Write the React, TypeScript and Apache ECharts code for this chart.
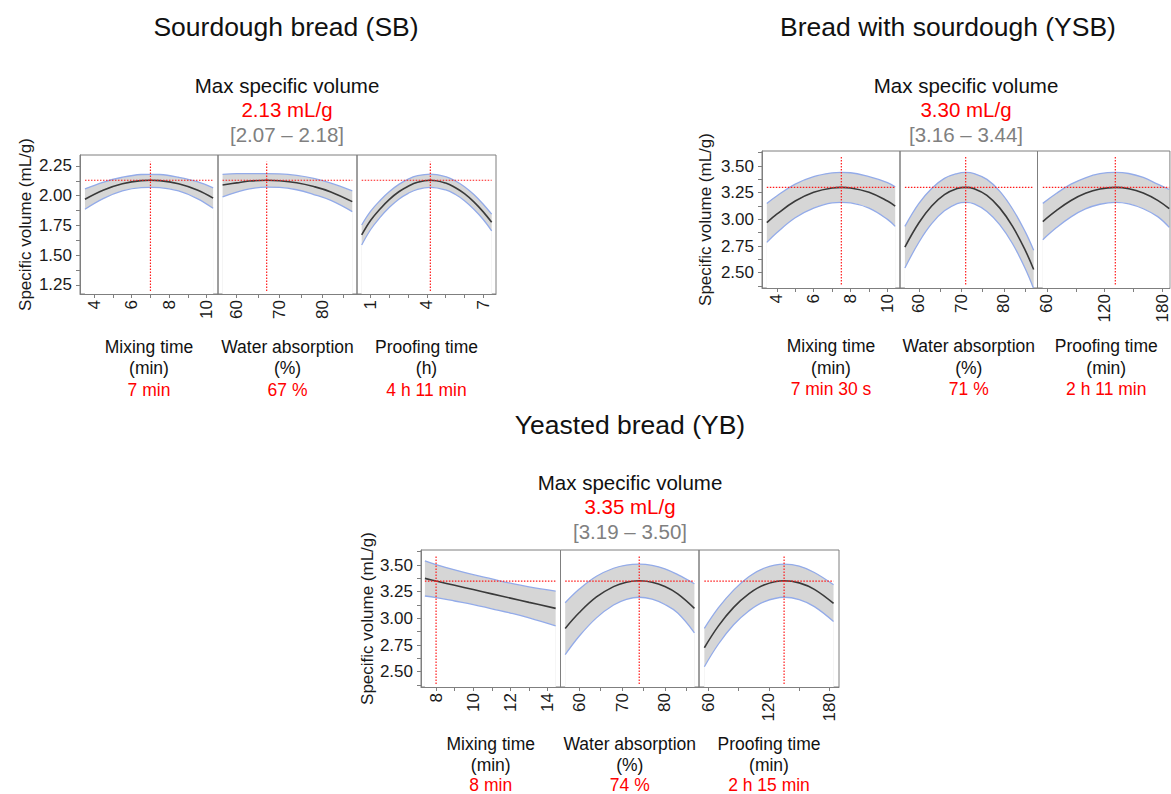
import React, { useEffect, useRef } from "react";
import * as echarts from "echarts";

const FONT = '"Liberation Sans", Arial, Helvetica, sans-serif';
const FRAME = "#7f7f7f";
const BLUE = "#93abe9";
const BAND = "#d6d6d6";
const MEAN = "#3a3a3a";
const RED = "#ff1a1a";
const TEXT_RED = "#ff0000";
const CI_GRAY = "#808080";

// ---------------- Sourdough bread (SB) ----------------
const sbMixX = [3.5, 4.5, 5.5, 6.5, 7.0, 7.5, 8.5, 9.5, 10.35];
const sbMixMean = [1.97, 2.048, 2.1, 2.127, 2.13, 2.127, 2.1, 2.048, 1.98];
const sbMixUpper = [2.057, 2.115, 2.155, 2.178, 2.18, 2.178, 2.155, 2.118, 2.066];
const sbMixLower = [1.886, 1.977, 2.04, 2.068, 2.07, 2.068, 2.04, 1.976, 1.894];

const sbWaterX = [56.7, 60, 63, 67, 70, 74, 78, 82, 87];
const sbWaterMean = [2.09, 2.108, 2.123, 2.13, 2.126, 2.109, 2.077, 2.032, 1.95];
const sbWaterUpper = [2.18, 2.185, 2.185, 2.185, 2.183, 2.17, 2.145, 2.105, 2.04];
const sbWaterLower = [1.99, 2.03, 2.058, 2.072, 2.07, 2.05, 2.01, 1.96, 1.866];

const sbProofX = [0.52, 1, 1.5, 2, 2.5, 3, 3.5, 4.18, 5, 5.5, 6, 6.5, 7, 7.45];
const sbProofMean = [1.67, 1.793, 1.889, 1.969, 2.033, 2.08, 2.113, 2.13, 2.106, 2.069, 2.017, 1.948, 1.864, 1.776];
const sbProofUpper = [1.754, 1.87, 1.96, 2.035, 2.095, 2.14, 2.168, 2.182, 2.16, 2.126, 2.076, 2.01, 1.928, 1.845];
const sbProofLower = [1.586, 1.716, 1.818, 1.903, 1.971, 2.02, 2.054, 2.07, 2.048, 2.012, 1.958, 1.886, 1.8, 1.705];

// ---------------- Bread with sourdough (YSB) ----------------
const ysbMixX = [3.46, 4, 5, 6, 7, 7.5, 8, 9, 10, 10.42];
const ysbMixMean = [2.97, 3.049, 3.172, 3.254, 3.295, 3.3, 3.295, 3.254, 3.172, 3.125];
const ysbMixUpper = [3.15, 3.22, 3.33, 3.4, 3.435, 3.44, 3.437, 3.4, 3.345, 3.305];
const ysbMixLower = [2.785, 2.875, 3.015, 3.105, 3.155, 3.16, 3.155, 3.105, 3.0, 2.935];

const ysbWaterX = [56.7, 60, 63, 66, 69, 71, 73, 76, 79, 82, 85, 87];
const ysbWaterMean = [2.74, 2.968, 3.125, 3.232, 3.289, 3.3, 3.288, 3.225, 3.108, 2.937, 2.712, 2.53];
const ysbWaterUpper = [2.935, 3.15, 3.29, 3.385, 3.43, 3.44, 3.43, 3.375, 3.265, 3.1, 2.885, 2.71];
const ysbWaterLower = [2.545, 2.786, 2.96, 3.08, 3.148, 3.16, 3.146, 3.075, 2.951, 2.774, 2.54, 2.35];

const ysbProofX = [55.7, 70, 85, 100, 115, 131, 145, 160, 175, 187];
const ysbProofMean = [2.98, 3.084, 3.177, 3.244, 3.285, 3.3, 3.288, 3.247, 3.178, 3.1];
const ysbProofUpper = [3.15, 3.245, 3.33, 3.39, 3.428, 3.44, 3.43, 3.393, 3.33, 3.28];
const ysbProofLower = [2.81, 2.923, 3.024, 3.098, 3.142, 3.16, 3.146, 3.1, 3.026, 2.925];

// ---------------- Yeasted bread (YB) ----------------
const ybMixX = [7.4, 8, 9, 10, 11, 12, 13, 14.43];
const ybMixMean = [3.375, 3.35, 3.31, 3.27, 3.23, 3.19, 3.15, 3.094];
const ybMixUpper = [3.54, 3.505, 3.455, 3.41, 3.37, 3.33, 3.295, 3.256];
const ybMixLower = [3.21, 3.195, 3.163, 3.13, 3.09, 3.05, 3.005, 2.93];

const ybWaterX = [56.7, 60, 64, 68, 71, 74, 77, 80, 83, 86.9];
const ybWaterMean = [2.906, 3.055, 3.201, 3.298, 3.339, 3.353, 3.339, 3.298, 3.23, 3.094];
const ybWaterUpper = [3.147, 3.275, 3.395, 3.47, 3.5, 3.508, 3.497, 3.465, 3.41, 3.325];
const ybWaterLower = [2.66, 2.835, 3.005, 3.125, 3.178, 3.198, 3.18, 3.13, 3.05, 2.865];

const ybProofX = [56, 70, 85, 100, 115, 135, 150, 165, 184];
const ybProofMean = [2.725, 2.93, 3.103, 3.23, 3.313, 3.353, 3.333, 3.272, 3.14];
const ybProofUpper = [2.906, 3.1, 3.265, 3.39, 3.47, 3.508, 3.49, 3.43, 3.315];
const ybProofLower = [2.547, 2.76, 2.94, 3.07, 3.155, 3.198, 3.175, 3.11, 2.97];

// ---------------- Optima ----------------
const sbOptX = [7, 67, 4.18];
const sbOptY = 2.13;
const ysbOptX = [7.5, 71, 131];
const ysbOptY = 3.3;
const ybOptX = [8, 74, 135];
const ybOptY = 3.35;
// vertical extent of the optimum reference lines [low, high]
const sbVSpan = [1.2, 2.285];
const ysbVSpan = [2.39, 3.595];
const ybVSpan = [2.385, 3.595];

// ---------------- Tick values ----------------
const sbYLabels = [1.25, 1.5, 1.75, 2.0, 2.25];
const sbYTicks = [1.25, 1.375, 1.5, 1.625, 1.75, 1.875, 2.0, 2.125, 2.25];
const yYLabels = [2.5, 2.75, 3.0, 3.25, 3.5];
const yYTicks = [2.375, 2.5, 2.625, 2.75, 2.875, 3.0, 3.125, 3.25, 3.375, 3.5, 3.625];

const mixLabels = [4, 6, 8, 10];
const mixTicks = [4, 5, 6, 7, 8, 9, 10];
const waterLabels = [60, 70, 80];
const waterTicks = [60, 65, 70, 75, 80, 85];
const hourLabels = [1, 4, 7];
const hourTicks = [1, 2, 3, 4, 5, 6, 7];
const minLabels = [60, 120, 180];
const minTicks = [60, 90, 120, 150, 180];
const ybMixLabels = [8, 10, 12, 14];
const ybMixTicks = [8, 9, 10, 11, 12, 13, 14];

// ---------------- Texts ----------------
const groupTitles = ["Sourdough bread (SB)", "Bread with sourdough (YSB)", "Yeasted bread (YB)"];
const maxValues = ["2.13 mL/g", "3.30 mL/g", "3.35 mL/g"];
const maxIntervals = ["[2.07 \u2013 2.18]", "[3.16 \u2013 3.44]", "[3.19 \u2013 3.50]"];
const factorNames = ["Mixing time", "Water absorption", "Proofing time"];
const sbUnits = ["(min)", "(%)", "(h)"];
const yUnits = ["(min)", "(%)", "(min)"];
const sbOptText = ["7 min", "67 %", "4 h 11 min"];
const ysbOptText = ["7 min 30 s", "71 %", "2 h 11 min"];
const ybOptText = ["8 min", "74 %", "2 h 15 min"];

const zip = (xs: number[], ys: number[]) => xs.map((x, k) => [x, ys[k]]);

type Panel = {
  left: number; top: number; width: number; height: number;
  xMin: number; xMax: number; yMin: number; yMax: number;
  xLabels: number[]; xTicks: number[];
  x: number[]; mean: number[]; upper: number[]; lower: number[];
  optX: number; optY: number; vSpan: number[];
  showY: boolean; yLabels: number[]; yTicks: number[]; nameGap: number;
};

function makeGroup(
  top: number, height: number, lefts: number[], widths: number[],
  xr: number[][], yr: number[], xl: number[][], xt: number[][],
  curves: number[][][], optX: number[], optY: number, vSpan: number[],
  yLabels: number[], yTicks: number[], nameGap: number
): Panel[] {
  return [0, 1, 2].map((k) => ({
    left: lefts[k], top, width: widths[k], height,
    xMin: xr[k][0], xMax: xr[k][1], yMin: yr[0], yMax: yr[1],
    xLabels: xl[k], xTicks: xt[k],
    x: curves[k][0], mean: curves[k][1], upper: curves[k][2], lower: curves[k][3],
    optX: optX[k], optY, vSpan,
    showY: k === 0, yLabels, yTicks, nameGap,
  }));
}

const panels: Panel[] = [
  ...makeGroup(155, 139, [80, 218, 357], [138, 139, 139],
    [[3.235, 10.61], [55.63, 88.1], [0.27, 7.68]], [1.174, 2.342],
    [mixLabels, waterLabels, hourLabels], [mixTicks, waterTicks, hourTicks],
    [[sbMixX, sbMixMean, sbMixUpper, sbMixLower], [sbWaterX, sbWaterMean, sbWaterUpper, sbWaterLower], [sbProofX, sbProofMean, sbProofUpper, sbProofLower]],
    sbOptX, sbOptY, sbVSpan, sbYLabels, sbYTicks, 46),
  ...makeGroup(151, 137, [762, 900, 1037.5], [138, 137.5, 137.5],
    [[3.2, 10.68], [55.55, 87.9], [50.2, 187.7]], [2.357, 3.641],
    [mixLabels, waterLabels, minLabels], [mixTicks, waterTicks, minTicks],
    [[ysbMixX, ysbMixMean, ysbMixUpper, ysbMixLower], [ysbWaterX, ysbWaterMean, ysbWaterUpper, ysbWaterLower], [ysbProofX, ysbProofMean, ysbProofUpper, ysbProofLower]],
    ysbOptX, ysbOptY, ysbVSpan, yYLabels, yYTicks, 48),
  ...makeGroup(550, 137, [421, 560.5, 699], [139.5, 138.5, 140],
    [[7.19, 14.69], [55.6, 87.97], [50.7, 189.4]], [2.357, 3.641],
    [ybMixLabels, waterLabels, minLabels], [ybMixTicks, waterTicks, minTicks],
    [[ybMixX, ybMixMean, ybMixUpper, ybMixLower], [ybWaterX, ybWaterMean, ybWaterUpper, ybWaterLower], [ybProofX, ybProofMean, ybProofUpper, ybProofLower]],
    ybOptX, ybOptY, ybVSpan, yYLabels, yYTicks, 44),
];

function txt(text: string, x: number, y: number, size: number, fill: string) {
  return {
    type: "text", x, y, silent: true,
    style: { text, fontSize: size, fontFamily: FONT, fill, align: "center", verticalAlign: "middle" },
  };
}

const redLine = { color: RED, type: [1.5, 1.5], width: 1.2 };

function buildOption() {
  const grid: any[] = [];
  const xAxis: any[] = [];
  const yAxis: any[] = [];
  const series: any[] = [];
  panels.forEach((p, i) => {
    grid.push({ left: p.left, top: p.top, width: p.width, height: p.height, show: true, borderColor: FRAME, borderWidth: 1, backgroundColor: "transparent" });
    xAxis.push({
      gridIndex: i, type: "value", min: p.xMin, max: p.xMax, z: 10,
      axisLine: { show: true, onZero: false, lineStyle: { color: FRAME, width: 1 } },
      axisTick: { show: true, inside: false, length: 4, customValues: p.xTicks, lineStyle: { color: FRAME } },
      axisLabel: { show: true, customValues: p.xLabels, rotate: 90, margin: 6, fontSize: 17, color: "#1a1a1a", fontFamily: FONT, hideOverlap: false },
      splitLine: { show: false },
      axisPointer: { show: false },
    });
    yAxis.push({
      gridIndex: i, type: "value", min: p.yMin, max: p.yMax, show: p.showY, z: 10,
      axisLine: { show: true, lineStyle: { color: FRAME, width: 1 } },
      axisTick: { show: true, inside: false, length: 4, customValues: p.yTicks, lineStyle: { color: FRAME } },
      axisLabel: { show: true, customValues: p.yLabels, margin: 8, fontSize: 17, color: "#1a1a1a", fontFamily: FONT, formatter: (v: number) => v.toFixed(2) },
      splitLine: { show: false },
      name: p.showY ? "Specific volume (mL/g)" : "",
      nameLocation: "middle", nameGap: p.nameGap,
      nameTextStyle: { fontSize: 17, color: "#1a1a1a", fontFamily: FONT },
    });
    const base = { type: "line", xAxisIndex: i, yAxisIndex: i, smooth: 0.4, showSymbol: false, symbol: "none", silent: true, clip: true };
    series.push({ ...base, z: 2, data: zip(p.x, p.upper), lineStyle: { color: BLUE, width: 1.3 }, areaStyle: { color: BAND, opacity: 1, origin: "start" } });
    series.push({ ...base, z: 3, data: zip(p.x, p.lower), lineStyle: { color: BLUE, width: 1.3 }, areaStyle: { color: "#ffffff", opacity: 1, origin: "start" } });
    series.push({ ...base, z: 4, data: zip(p.x, p.mean), lineStyle: { color: MEAN, width: 1.6 } });
    const xFirst = p.x[0];
    const xLast = p.x[p.x.length - 1];
    // horizontal optimum line over the factor's range
    series.push({
      type: "line", xAxisIndex: i, yAxisIndex: i, silent: true, z: 6, smooth: false,
      showSymbol: false, symbol: "none", clip: true,
      data: [[xFirst, p.optY], [xLast, p.optY]],
      itemStyle: { color: RED },
      lineStyle: redLine,
    });
    // vertical optimum line
    series.push({
      type: "line", xAxisIndex: i, yAxisIndex: i, silent: true, z: 6, smooth: false,
      showSymbol: false, symbol: "none", clip: true,
      data: [[p.optX, p.vSpan[0]], [p.optX, p.vSpan[1]]],
      itemStyle: { color: RED },
      lineStyle: redLine,
    });
  });

  const elements: any[] = [];
  const centers = [287, 966, 630];
  const titleCenters = [286, 948, 630];
  const titleY = [27, 27, 425];
  const maxY = [85, 85, 482];
  [0, 1, 2].forEach((g) => {
    elements.push(txt(groupTitles[g], titleCenters[g], titleY[g], 26.5, "#111"));
    elements.push(txt("Max specific volume", centers[g], maxY[g], 20.5, "#111"));
    elements.push(txt(maxValues[g], centers[g], maxY[g] + 24.5, 20.5, TEXT_RED));
    elements.push(txt(maxIntervals[g], centers[g], maxY[g] + 49, 20.5, CI_GRAY));
  });
  const factorY = [346.5, 346, 743.5];
  const units = [sbUnits, yUnits, yUnits];
  const opts = [sbOptText, ysbOptText, ybOptText];
  [0, 1, 2].forEach((g) => {
    [0, 1, 2].forEach((k) => {
      const p = panels[g * 3 + k];
      const cx = p.left + p.width / 2;
      elements.push(txt(factorNames[k], cx, factorY[g], 17.5, "#111"));
      elements.push(txt(units[g][k], cx, factorY[g] + 21.7, 17.5, "#111"));
      elements.push(txt(opts[g][k], cx, factorY[g] + (g === 2 ? 41.5 : 43.3), 17.5, TEXT_RED));
    });
  });

  return {
    animation: false,
    backgroundColor: "#ffffff",
    textStyle: { fontFamily: FONT },
    grid, xAxis, yAxis, series,
    graphic: { elements },
  };
}

export default function App() {
  const ref = useRef<HTMLDivElement>(null);
  useEffect(() => {
    document.body.style.margin = "0";
    if (!ref.current) return;
    const chart = echarts.init(ref.current, undefined, { renderer: "svg" });
    chart.setOption(buildOption() as any);
    return () => chart.dispose();
  }, []);
  return <div ref={ref} style={{ width: 1171, height: 794 }} />;
}
